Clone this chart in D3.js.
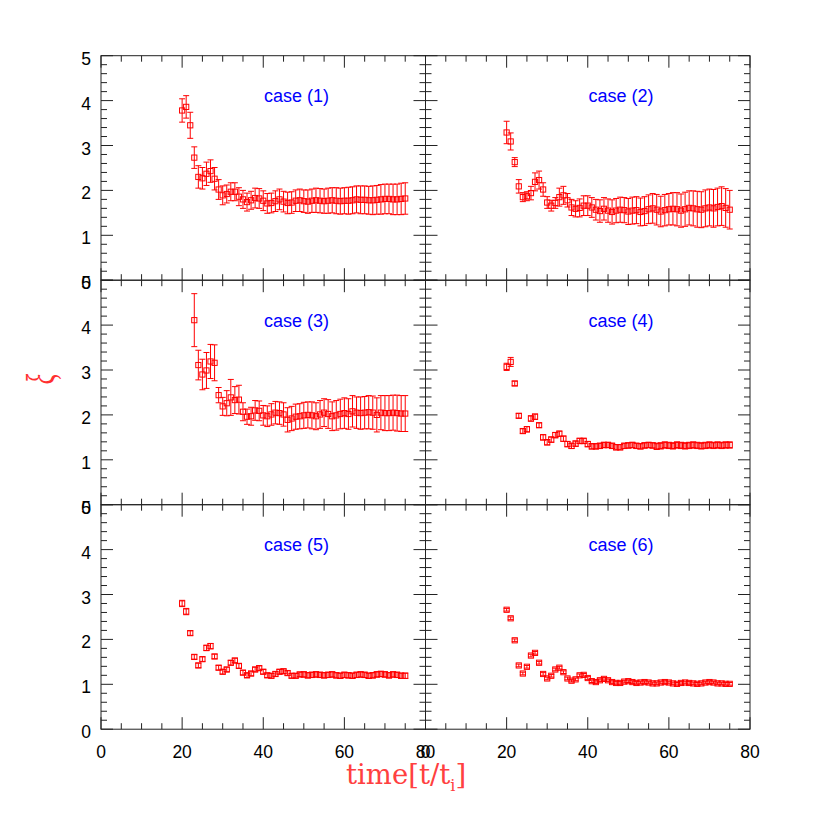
<!DOCTYPE html>
<html>
<head>
<meta charset="utf-8">
<script src="https://cdn.jsdelivr.net/npm/d3@7"></script>
<style>
  html, body { margin: 0; padding: 0; background: #fff; }
  svg { display: block; }
</style>
</head>
<body>
<svg id="chart" width="817" height="817"></svg>
<script>
// ---------- data ----------
const times = [20,21,22,23,24,25,26,27,28,29,30,31,32,33,34,35,36,37,38,39,
               40,41,42,43,44,45,46,47,48,49,50,51,52,53,54,55,56,57,58,59,
               60,61,62,63,64,65,66,67,68,69,70,71,72,73,74,75];
const times3 = [23,24,25,26,27,28,29,30,31,32,33,34,35,36,37,38,39,
               40,41,42,43,44,45,46,47,48,49,50,51,52,53,54,55,56,57,58,59,
               60,61,62,63,64,65,66,67,68,69,70,71,72,73,74,75];

const case1Y = [3.78,3.86,3.45,2.73,2.30,2.27,2.37,2.43,2.26,2.02,
                1.89,1.92,1.97,1.97,1.86,1.80,1.74,1.78,1.83,1.82,
                1.77,1.71,1.72,1.76,1.80,1.75,1.72,1.73,1.77,1.78,
                1.76,1.75,1.77,1.78,1.77,1.76,1.77,1.78,1.77,1.76,
                1.77,1.77,1.78,1.80,1.79,1.79,1.78,1.78,1.79,1.80,
                1.81,1.81,1.80,1.80,1.81,1.82];
const case1Err = [0.26,0.25,0.29,0.24,0.25,0.24,0.26,0.25,0.25,0.22,
                  0.21,0.20,0.20,0.20,0.20,0.20,0.20,0.20,0.22,0.22,
                  0.22,0.22,0.22,0.23,0.23,0.23,0.24,0.24,0.24,0.25,
                  0.25,0.26,0.26,0.27,0.27,0.27,0.28,0.28,0.29,0.29,
                  0.29,0.30,0.30,0.30,0.31,0.31,0.31,0.32,0.32,0.33,
                  0.33,0.33,0.34,0.34,0.35,0.35];

const case2Y = [3.29,3.09,2.63,2.09,1.85,1.87,1.94,2.19,2.23,2.02,
                1.73,1.66,1.72,1.85,1.89,1.78,1.62,1.59,1.61,1.66,
                1.66,1.62,1.57,1.54,1.59,1.55,1.52,1.55,1.57,1.56,
                1.53,1.55,1.56,1.52,1.54,1.58,1.60,1.57,1.53,1.56,
                1.58,1.59,1.58,1.55,1.58,1.61,1.60,1.58,1.57,1.60,
                1.62,1.60,1.63,1.65,1.61,1.57];
const case2Err = [0.25,0.19,0.10,0.15,0.10,0.10,0.15,0.20,0.20,0.15,
                  0.13,0.12,0.12,0.20,0.20,0.15,0.18,0.18,0.20,0.22,
                  0.22,0.22,0.23,0.25,0.25,0.26,0.27,0.27,0.28,0.28,
                  0.29,0.30,0.30,0.31,0.32,0.32,0.33,0.34,0.34,0.35,
                  0.35,0.36,0.37,0.37,0.38,0.38,0.39,0.40,0.40,0.41,
                  0.41,0.42,0.42,0.43,0.43,0.43];

const case3Y = [4.11,3.11,2.90,2.99,3.19,3.16,2.44,2.19,2.26,2.39,
                2.33,2.34,2.07,1.96,1.97,2.10,2.09,
                1.99,1.97,2.01,2.05,2.04,2.01,1.89,1.92,1.96,1.97,
                1.99,2.00,1.99,1.97,2.01,2.05,2.02,1.97,1.99,2.02,
                2.04,2.02,2.08,2.05,2.04,2.05,2.06,2.05,2.00,2.05,
                2.04,2.04,2.05,2.04,2.03,2.03];
const case3Err = [0.59,0.33,0.34,0.40,0.38,0.40,0.17,0.20,0.28,0.40,
                  0.30,0.32,0.20,0.17,0.20,0.22,0.22,
                  0.22,0.23,0.24,0.25,0.25,0.26,0.27,0.27,0.28,0.28,
                  0.29,0.29,0.30,0.30,0.31,0.31,0.32,0.32,0.33,0.33,
                  0.34,0.34,0.35,0.35,0.36,0.36,0.37,0.37,0.38,0.38,
                  0.39,0.39,0.39,0.40,0.40,0.40];

const case4Y = [3.07,3.18,2.70,1.98,1.64,1.68,1.92,1.96,1.77,1.50,
                1.39,1.45,1.55,1.58,1.47,1.35,1.31,1.36,1.42,1.42,
                1.35,1.30,1.30,1.31,1.33,1.33,1.31,1.28,1.28,1.31,
                1.32,1.33,1.31,1.30,1.32,1.33,1.32,1.30,1.31,1.33,
                1.32,1.31,1.33,1.32,1.31,1.32,1.33,1.32,1.31,1.32,
                1.33,1.32,1.33,1.32,1.33,1.33];
const case4Err = [0.08,0.10,0.05,0.05,0.05,0.06,0.06,0.06,0.05,0.06,
                  0.06,0.06,0.06,0.06,0.06,0.06,0.06,0.06,0.06,0.06,
                  0.06,0.06,0.06,0.06,0.06,0.06,0.06,0.06,0.06,0.06,
                  0.06,0.06,0.06,0.06,0.06,0.06,0.06,0.07,0.07,0.07,
                  0.07,0.07,0.07,0.07,0.07,0.07,0.07,0.07,0.07,0.07,
                  0.07,0.07,0.07,0.07,0.07,0.07];

const case5Y = [2.80,2.62,2.14,1.61,1.42,1.56,1.81,1.85,1.62,1.37,
                1.28,1.33,1.48,1.53,1.41,1.26,1.20,1.24,1.33,1.36,
                1.28,1.20,1.19,1.23,1.28,1.29,1.25,1.19,1.19,1.22,
                1.22,1.20,1.21,1.22,1.21,1.20,1.21,1.22,1.20,1.19,
                1.21,1.20,1.19,1.21,1.22,1.21,1.19,1.20,1.22,1.23,
                1.22,1.20,1.22,1.21,1.19,1.19];
const case5Err = [0.07,0.07,0.05,0.05,0.05,0.05,0.06,0.06,0.05,0.05,
                  0.05,0.05,0.05,0.05,0.05,0.05,0.05,0.05,0.05,0.05,
                  0.05,0.05,0.05,0.05,0.05,0.05,0.05,0.05,0.05,0.05,
                  0.06,0.06,0.06,0.06,0.06,0.06,0.06,0.06,0.06,0.06,
                  0.06,0.06,0.06,0.06,0.06,0.06,0.06,0.06,0.06,0.06,
                  0.06,0.06,0.06,0.06,0.06,0.06];

const case6Y = [2.66,2.47,1.98,1.42,1.24,1.39,1.64,1.70,1.48,1.23,
                1.13,1.19,1.33,1.37,1.27,1.13,1.08,1.11,1.20,1.21,
                1.14,1.07,1.05,1.09,1.12,1.09,1.05,1.03,1.03,1.06,
                1.07,1.05,1.03,1.04,1.05,1.04,1.02,1.02,1.04,1.05,
                1.04,1.02,1.01,1.03,1.04,1.03,1.02,1.01,1.02,1.04,
                1.05,1.04,1.02,1.02,1.01,1.01];
const case6Err = [0.03,0.03,0.03,0.03,0.03,0.03,0.03,0.03,0.03,0.03,
                  0.03,0.03,0.03,0.03,0.03,0.03,0.03,0.03,0.03,0.03,
                  0.03,0.03,0.03,0.03,0.03,0.03,0.03,0.03,0.03,0.03,
                  0.03,0.03,0.03,0.03,0.03,0.03,0.03,0.03,0.03,0.03,
                  0.03,0.03,0.03,0.03,0.03,0.03,0.03,0.03,0.03,0.03,
                  0.03,0.03,0.03,0.03,0.03,0.03];

const caseLabels = ["case (1)","case (2)","case (3)","case (4)","case (5)","case (6)"];
const xTickLabels = [0,20,40,60,80];
const yTickLabels = [0,1,2,3,4,5];
const xDomain = [0,80];
const yDomain = [0,5];
const xTitle = "time[t/t";
const xTitleSub = "i";
const yTitle = "ξ";

// ---------- layout ----------
const svg = d3.select("#chart");
const plotLeft = 101, plotTop = 55.7, pw = 324.5, ph = 224.5;
const red = "#ff0000", tickCol = "#222";

const panels = [
  {x: times,  y: case1Y, e: case1Err, col: 0, row: 0},
  {x: times,  y: case2Y, e: case2Err, col: 1, row: 0},
  {x: times3, y: case3Y, e: case3Err, col: 0, row: 1},
  {x: times,  y: case4Y, e: case4Err, col: 1, row: 1},
  {x: times,  y: case5Y, e: case5Err, col: 0, row: 2},
  {x: times,  y: case6Y, e: case6Err, col: 1, row: 2}
];

const font = "'Liberation Sans', Arial, Helvetica, sans-serif";

panels.forEach((p, i) => {
  const x0 = plotLeft + p.col * pw, y0 = plotTop + p.row * ph;
  const xs = d3.scaleLinear().domain(xDomain).range([x0, x0 + pw]);
  const ys = d3.scaleLinear().domain(yDomain).range([y0 + ph, y0]);
  const g = svg.append("g");

  g.append("rect").attr("x", x0).attr("y", y0).attr("width", pw).attr("height", ph)
    .attr("fill", "none").attr("stroke", tickCol).attr("stroke-width", 1);

  const xMinor = d3.range(0, 81, 5), yMinor = d3.range(0, 5.01, 0.2);
  const tk = g.append("g").attr("stroke", tickCol).attr("stroke-width", 1);
  xMinor.forEach(v => {
    const L = (v % 20 === 0) ? 12 : 6;
    tk.append("line").attr("x1", xs(v)).attr("x2", xs(v)).attr("y1", y0 + ph).attr("y2", y0 + ph - L);
    tk.append("line").attr("x1", xs(v)).attr("x2", xs(v)).attr("y1", y0).attr("y2", y0 + L);
  });
  yMinor.forEach(v => {
    const major = Math.abs(v - Math.round(v)) < 1e-6;
    const L = major ? 12 : 6;
    tk.append("line").attr("x1", x0).attr("x2", x0 + L).attr("y1", ys(v)).attr("y2", ys(v));
    tk.append("line").attr("x1", x0 + pw).attr("x2", x0 + pw - L).attr("y1", ys(v)).attr("y2", ys(v));
  });

  if (p.col === 0) {
    g.append("g").selectAll("text").data(yTickLabels).join("text")
      .attr("x", x0 - 10).attr("y", d => ys(d) + 9)
      .attr("text-anchor", "end").attr("font-family", font).attr("font-size", 17.5)
      .attr("fill", "#000").text(d => d);
  }
  if (p.row === 2) {
    g.append("g").selectAll("text").data(xTickLabels).join("text")
      .attr("x", d => xs(d)).attr("y", y0 + ph + 29)
      .attr("text-anchor", "middle").attr("font-family", font).attr("font-size", 17.5)
      .attr("fill", "#000").text(d => d);
  }

  g.append("text").attr("x", xs(48.2)).attr("y", ys(3.96))
    .attr("text-anchor", "middle").attr("font-family", font).attr("font-size", 18)
    .attr("fill", "#0000ff").text(caseLabels[i]);

  const pts = p.x.map((t, k) => ({t, v: p.y[k], e: p.e[k]}));
  const d = g.append("g").attr("stroke", red).attr("fill", "none").attr("stroke-width", 1);
  const cap = 3, sq = 2.6;
  pts.forEach(o => {
    const cx = xs(o.t), cy = ys(o.v), yt = ys(o.v + o.e), yb = ys(o.v - o.e);
    d.append("line").attr("x1", cx).attr("x2", cx).attr("y1", yt).attr("y2", yb);
    d.append("line").attr("x1", cx - cap).attr("x2", cx + cap).attr("y1", yt).attr("y2", yt);
    d.append("line").attr("x1", cx - cap).attr("x2", cx + cap).attr("y1", yb).attr("y2", yb);
    d.append("rect").attr("x", cx - sq).attr("y", cy - sq).attr("width", 2 * sq).attr("height", 2 * sq);
  });
});

svg.append("text")
  .attr("transform", "translate(54,379) rotate(-90) scale(0.8,1.35)")
  .attr("text-anchor", "middle")
  .attr("font-family", "'Liberation Serif', 'DejaVu Serif', serif")
  .attr("font-style", "italic")
  .attr("font-size", 30)
  .attr("fill", "#ff3030")
  .text(yTitle);

const xt = svg.append("text")
  .attr("x", 346).attr("y", 784)
  .attr("font-family", "'DejaVu Serif', serif")
  .attr("font-size", 27.5)
  .attr("fill", "#ff4040");
xt.append("tspan").text(xTitle);
xt.append("tspan").attr("dy", 7).attr("font-size", 16).text(xTitleSub);
xt.append("tspan").attr("dy", -7).text("]");
</script>
</body>
</html>
